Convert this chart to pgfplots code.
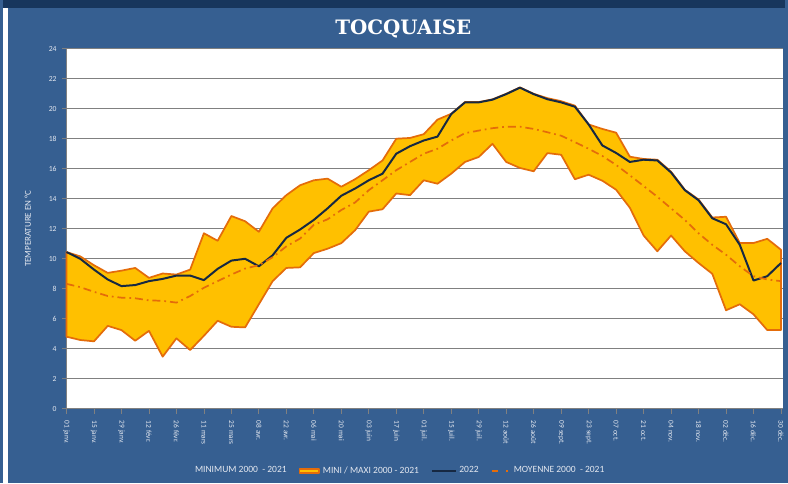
\documentclass[border=0pt]{standalone}
\usepackage{pgfplots}
\pgfplotsset{compat=1.18}
\usepackage{pgfplotstable}
\usepgfplotslibrary{fillbetween}
\usepackage{fontspec}
\setmainfont{Carlito}
\newfontfamily\titlefont{DejaVu Serif}

\definecolor{bgblue}{RGB}{54,95,145}
\definecolor{topblue}{RGB}{23,54,93}
\definecolor{gold}{RGB}{255,192,0}
\definecolor{orng}{RGB}{228,108,10}
\definecolor{navy}{RGB}{22,40,66}
\definecolor{gridgray}{RGB}{128,128,128}
\definecolor{lbl}{RGB}{228,232,240}

% weekly values: min / max 2000-2021, year 2022, mean 2000-2021
\pgfplotstableread{
w  mn    mx    y22   moy
0  4.81  10.45 10.45 8.33
1  4.59  10.16 10.00 8.11
2  4.50  9.57  9.28  7.80
3  5.53  9.06  8.62  7.52
4  5.25  9.21  8.18  7.41
5  4.54  9.39  8.25  7.37
6  5.20  8.73  8.51  7.23
7  3.48  9.02  8.66  7.20
8  4.70  8.95  8.88  7.08
9  3.92  9.28  8.88  7.52
10 4.87  11.70 8.58  8.07
11 5.87  11.20 9.33  8.51
12 5.47  12.85 9.88  8.95
13 5.43  12.50 10.00 9.35
14 6.97  11.80 9.50  9.57
15 8.51  13.36 10.23 10.10
16 9.39  14.24 11.40 10.83
17 9.43  14.90 11.95 11.35
18 10.38 15.23 12.59 12.26
19 10.67 15.34 13.36 12.63
20 11.04 14.80 14.20 13.25
21 11.90 15.30 14.68 13.75
22 13.14 15.90 15.23 14.57
23 13.30 16.55 15.67 15.23
24 14.35 18.00 17.00 15.90
25 14.24 18.05 17.50 16.45
26 15.23 18.30 17.88 17.00
27 15.00 19.27 18.14 17.33
28 15.67 19.66 19.64 17.88
29 16.45 20.44 20.42 18.37
30 16.78 20.44 20.42 18.54
31 17.66 20.62 20.60 18.70
32 16.45 20.99 20.97 18.80
33 16.05 21.42 21.40 18.80
34 15.83 20.99 20.97 18.65
35 17.04 20.70 20.63 18.43
36 16.93 20.50 20.42 18.20
37 15.30 20.20 20.13 17.77
38 15.60 18.95 18.95 17.33
39 15.20 18.65 17.55 16.85
40 14.60 18.40 17.05 16.25
41 13.40 16.80 16.45 15.56
42 11.55 16.65 16.60 14.85
43 10.50 16.60 16.55 14.13
44 11.55 15.80 15.75 13.36
45 10.50 14.60 14.57 12.59
46 9.72  13.95 13.90 11.70
47 9.00  12.75 12.70 10.93
48 6.57  12.80 12.30 10.27
49 6.97  11.05 10.93 9.50
50 6.30  11.05 8.55  8.84
51 5.25  11.33 8.84  8.62
52 5.25  10.60 9.72  8.51
}\temps

\begin{document}
\pagecolor{bgblue}
\begin{tikzpicture}
\path (0,0) rectangle (591pt,365.25pt);
\fill[topblue] (0,359.5pt) rectangle (591pt,365.25pt);
\fill[white] (0,0) rectangle (3.75pt,359.5pt);
\node[font=\titlefont\bfseries\fontsize{15}{18}\selectfont, text=white] at (302.5pt,343.6pt) {TOCQUAISE};

\begin{axis}[
    at={(48pt,56.25pt)}, anchor=south west,
    width=541.5pt, height=272.25pt, scale only axis,
    xmin=0, xmax=52.15, ymin=0, ymax=24,
    clip=false,
    axis background/.style={fill=white},
    axis lines*=left,
    axis line style={gridgray, line width=0.8pt},
    ymajorgrids, grid style={gridgray, line width=0.8pt},
    ytick={0,2,...,24},
    xtick={0,2,...,52},
    xticklabels={01 janv., 15 janv., 29 janv., 12 févr., 26 févr., 11 mars, 25 mars, 08 avr., 22 avr., 06 mai, 20 mai, 03 juin, 17 juin, 01 juil., 15 juil., 29 juil., 12 août, 26 août, 09 sept., 23 sept., 07 oct., 21 oct., 04 nov., 18 nov., 02 déc., 16 déc., 30 déc.},
    tick align=outside, major tick length=3.5pt,
    tick style={gridgray, line width=0.6pt},
    /pgf/number format/assume math mode=true,
    yticklabel style={font=\fontsize{5.8}{6}\selectfont, text=lbl, xshift=-0.5pt},
    xticklabel style={font=\fontsize{5.6}{6}\selectfont, text=lbl, rotate=-90, anchor=west, xshift=2pt},
    ylabel={TEMPERATURE EN °C},
    ylabel style={at={(axis description cs:-0.054,0.5)}, anchor=center, font=\fontsize{6.8}{8}\selectfont, text=lbl},
    legend columns=4,
    legend style={at={(axis description cs:0.465,-0.172)}, anchor=center, draw=none, fill=none,
        text=lbl, font=\fontsize{7.2}{8}\selectfont,
        /tikz/every even column/.append style={column sep=7pt}},
]
\addplot[name path=mxp, draw=none, forget plot] table[x=w, y=mx] {\temps};
\addplot[name path=mnp, draw=none, forget plot] table[x=w, y=mn] {\temps};
\addlegendimage{empty legend}
\addlegendentry{MINIMUM 2000 \ - 2021}
\addplot[fill=gold, draw=orng, line width=1.3pt, line join=round,
    legend image code/.code={\draw[fill=gold, draw=orng, line width=1.4pt] (0pt,-1.6pt) rectangle (15pt,1.6pt);}]
    fill between[of=mxp and mnp];
\addlegendentry{MINI / MAXI 2000 - 2021}
\addplot[navy, line width=1.5pt, line join=round,
    legend image code/.code={\draw[navy, line width=1.5pt] (0pt,0pt) -- (18pt,0pt);}]
    table[x=w, y=y22] {\temps};
\addlegendentry{2022}
\addplot[orng, line width=1.3pt, dash pattern=on 6pt off 3pt on 1.3pt off 3pt,
    legend image code/.code={\draw[orng, line width=1.5pt, dash pattern=on 5pt off 6pt on 1.3pt off 3pt] (0pt,0pt) -- (14pt,0pt);}]
    table[x=w, y=moy] {\temps};
\addlegendentry{MOYENNE 2000 \ - 2021}
\end{axis}
\end{tikzpicture}
\end{document}
